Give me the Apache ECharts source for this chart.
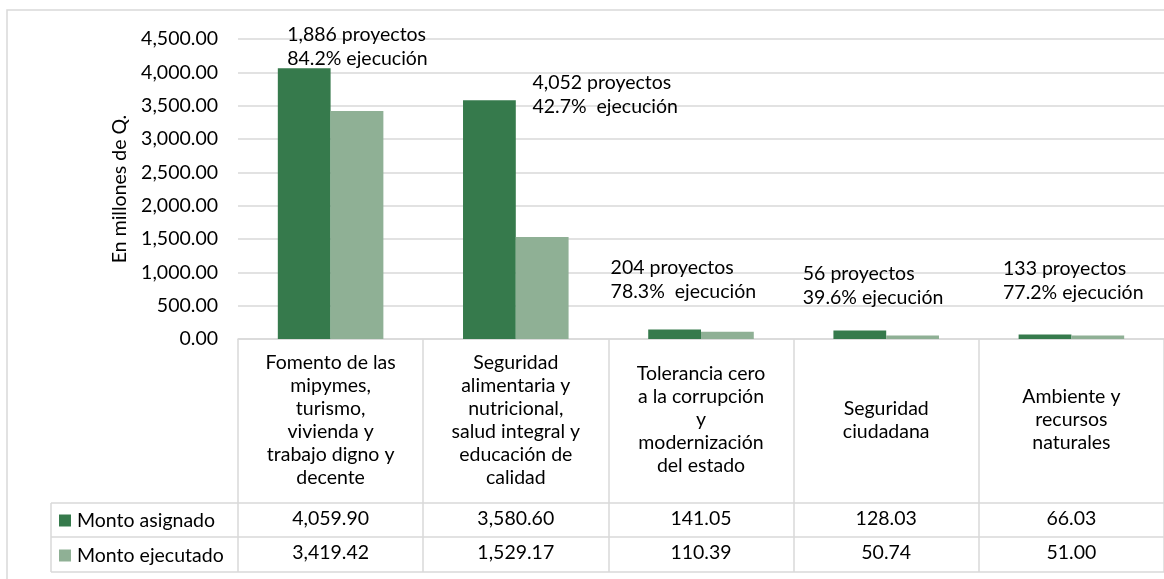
<!DOCTYPE html>
<html>
<head>
<meta charset="utf-8">
<script src="https://cdn.jsdelivr.net/npm/echarts@6/dist/echarts.min.js"></script>
<style>
  html,body{margin:0;padding:0;background:#fff;}
  #main{width:1164px;height:579px;}
</style>
</head>
<body>
<div id="main"></div>
<script>
// categorias (ejes del plan)
const categories = [
  'Fomento de las\nmipymes,\nturismo,\nvivienda y\ntrabajo digno y\ndecente',
  'Seguridad\nalimentaria y\nnutricional,\nsalud integral y\neducación de\ncalidad',
  'Tolerancia cero\na la corrupción\ny\nmodernización\ndel estado',
  'Seguridad\nciudadana',
  'Ambiente y\nrecursos\nnaturales'
];
const asignado = [4059.90, 3580.60, 141.05, 128.03, 66.03];
const ejecutado = [3419.42, 1529.17, 110.39, 50.74, 51.00];
const notes = [
  '1,886 proyectos\n84.2% ejecución',
  '4,052 proyectos\n42.7%  ejecución',
  '204 proyectos\n78.3%  ejecución',
  '56 proyectos\n39.6% ejecución',
  '133 proyectos\n77.2% ejecución'
];
const yTicks = [0, 500, 1000, 1500, 2000, 2500, 3000, 3500, 4000, 4500];

// layout (px)
const FONT = 'Lato';
const FS = 19.5;
const gridLeft = 238, gridTop = 39, gridH = 300;
const axisY = gridTop + gridH;          // 339
const tableLeft = 51;
const rowLines = [503, 537, 572];
// markPoint sits on the dark bar centre; dx is measured from there
const noteAnchor = [ // [dx px, y value]
  [-17, 4380], [43, 3660], [-64, 885], [-57, 802], [-42, 870]
];
const dark = '#367a4c', light = '#8fb095', border = '#d9d9d9';

function fmt(v){
  return v.toLocaleString('en-US',{minimumFractionDigits:2,maximumFractionDigits:2});
}

let chart = echarts.init(document.getElementById('main'), null, {renderer:'canvas'});

let tableLines = [];
rowLines.forEach(function(y){
  tableLines.push({type:'line', shape:{x1:tableLeft, y1:y, x2:1164, y2:y},
    style:{stroke:border, lineWidth:1.5}, silent:true});
});
tableLines.push({type:'line', shape:{x1:tableLeft, y1:rowLines[0], x2:tableLeft, y2:rowLines[2]},
  style:{stroke:border, lineWidth:1.5}, silent:true});
tableLines.push({type:'rect', shape:{x:7, y:10, width:1300, height:700},
  style:{stroke:border, lineWidth:1.5, fill:null}, silent:true});

let option = {
  animation:false,
  textStyle:{fontFamily:FONT},
  grid:{left:gridLeft, top:gridTop, height:gridH, right:0},
  legend:{
    orient:'vertical',
    left:54, top:505,
    itemWidth:12, itemHeight:12, itemGap:14,
    icon:'rect',
    textStyle:{fontFamily:FONT, fontSize:FS, color:'#000', lineHeight:21, padding:[0,0,0,1]},
    data:['Monto asignado','Monto ejecutado']
  },
  graphic:tableLines,
  xAxis:[
    {
      type:'category',
      data:categories,
      axisLine:{show:true, lineStyle:{color:border, width:1.5}},
      axisTick:{show:true, length:rowLines[2]-axisY, lineStyle:{color:border, width:1.5}},
      axisLabel:{
        interval:0, margin:81, verticalAlign:'middle',
        fontFamily:FONT, fontSize:FS, lineHeight:23, color:'#000'
      }
    },
    {
      type:'category', data:categories, position:'bottom',
      offset:rowLines[0]-axisY,
      axisLine:{show:false}, axisTick:{show:false},
      axisLabel:{
        interval:0, margin:16, verticalAlign:'middle',
        fontFamily:FONT, fontSize:FS, color:'#000',
        formatter:function(v, i){ return fmt(asignado[i]); }
      }
    },
    {
      type:'category', data:categories, position:'bottom',
      offset:rowLines[1]-axisY,
      axisLine:{show:false}, axisTick:{show:false},
      axisLabel:{
        interval:0, margin:16, verticalAlign:'middle',
        fontFamily:FONT, fontSize:FS, color:'#000',
        formatter:function(v, i){ return fmt(ejecutado[i]); }
      }
    }
  ],
  yAxis:{
    type:'value',
    min:yTicks[0], max:yTicks[yTicks.length-1], interval:500,
    name:'En millones de Q.',
    nameLocation:'middle', nameGap:108, nameRotate:90,
    nameTextStyle:{fontFamily:FONT, fontSize:FS, color:'#000'},
    axisLine:{show:false}, axisTick:{show:false},
    splitLine:{lineStyle:{color:border, width:1.5}},
    axisLabel:{
      margin:20, fontFamily:FONT, fontSize:FS, color:'#000',
      formatter:function(v){ return fmt(v); }
    }
  },
  series:[
    {
      name:'Monto asignado',
      type:'bar',
      data:asignado,
      barGap:'0%',
      barCategoryGap:'43%',
      itemStyle:{color:dark},
      markPoint:{
        symbol:'circle', symbolSize:0,
        data:notes.map(function(n, i){
          return {
            coord:[i, noteAnchor[i][1]],
            value:n,
            label:{offset:[noteAnchor[i][0], 0]}
          };
        }),
        label:{
          show:true, position:'inside', align:'left', verticalAlign:'middle',
          fontFamily:FONT, fontSize:FS, lineHeight:24, color:'#000',
          formatter:function(p){ return notes[p.dataIndex]; }
        }
      }
    },
    {
      name:'Monto ejecutado',
      type:'bar',
      data:ejecutado,
      itemStyle:{color:light}
    }
  ]
};
chart.setOption(option);
</script>
</body>
</html>
